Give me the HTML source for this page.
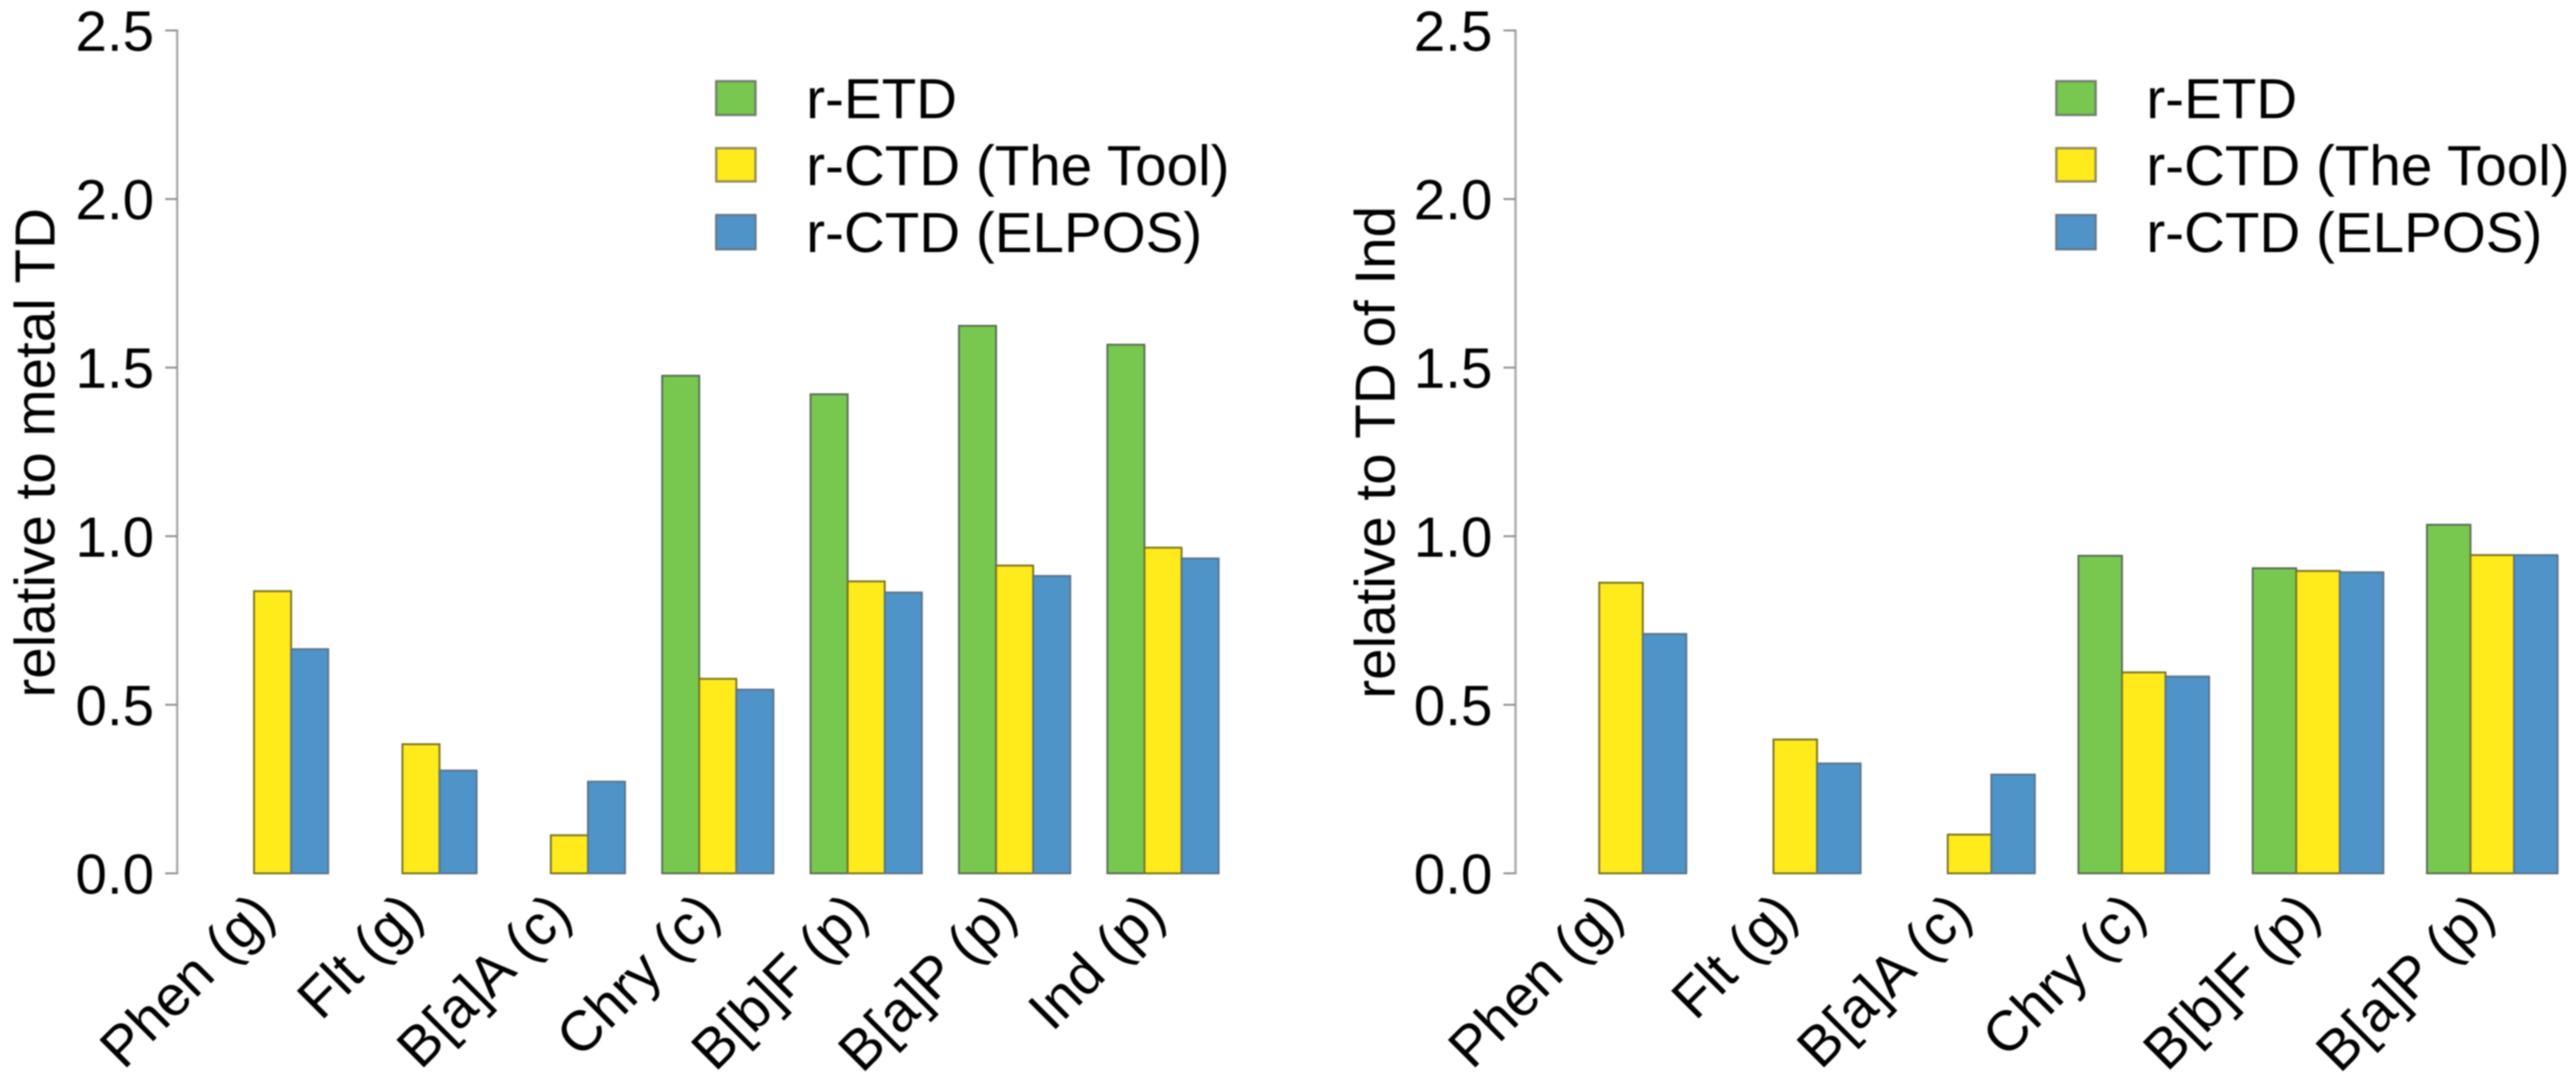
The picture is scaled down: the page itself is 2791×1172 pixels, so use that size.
<!DOCTYPE html>
<html>
<head>
<meta charset="utf-8">
<title>Relative deposition charts</title>
<style>
html,body{margin:0;padding:0;background:#fff;}
#figure{display:block;width:2791px;height:1172px;filter:blur(0.7px);}
text{font-family:"Liberation Sans",Arial,sans-serif;font-size:61.3px;fill:#000;}
</style>
</head>
<body>
<svg id="figure" xmlns="http://www.w3.org/2000/svg" width="2791" height="1172" viewBox="0 0 2791 1172">
  <rect width="2791" height="1172" fill="#fff"/>

  <g id="left-panel">
    <text transform="translate(59,490.5) rotate(-90)" text-anchor="middle">relative to metal TD</text>
    <g>
      <g>
        <rect x="776" y="88" width="42.5" height="36.5" fill="#78c850" stroke="#6f7f68" stroke-width="2.5"/>
        <text x="873.5" y="128">r-ETD</text>
      </g>
      <g>
        <rect x="776" y="160.5" width="42.5" height="36" fill="#ffeb1c" stroke="#8f8a55" stroke-width="2.5"/>
        <text x="873.5" y="200.5">r-CTD (The Tool)</text>
      </g>
      <g>
        <rect x="776" y="233" width="42.5" height="37" fill="#4f94c8" stroke="#66788a" stroke-width="2.5"/>
        <text x="873.5" y="273">r-CTD (ELPOS)</text>
      </g>
    </g>
  </g>

  <g id="right-panel">
    <text transform="translate(1511,490) rotate(-90)" text-anchor="middle">relative to TD of Ind</text>
    <g>
      <g>
        <rect x="2228" y="88" width="42.5" height="36.5" fill="#78c850" stroke="#6f7f68" stroke-width="2.5"/>
        <text x="2325.5" y="128">r-ETD</text>
      </g>
      <g>
        <rect x="2228" y="160.5" width="42.5" height="36" fill="#ffeb1c" stroke="#8f8a55" stroke-width="2.5"/>
        <text x="2325.5" y="200.5">r-CTD (The Tool)</text>
      </g>
      <g>
        <rect x="2228" y="233" width="42.5" height="37" fill="#4f94c8" stroke="#66788a" stroke-width="2.5"/>
        <text x="2325.5" y="273">r-CTD (ELPOS)</text>
      </g>
    </g>
  </g>
</svg>

<script>
var yTicks = ["0.0", "0.5", "1.0", "1.5", "2.0", "2.5"];
var seriesNames = ["r-etd", "r-ctd-tool", "r-ctd-elpos"];

var leftCategories = ["Phen (g)", "Flt (g)", "B[a]A (c)", "Chry (c)", "B[b]F (p)", "B[a]P (p)", "Ind (p)"];
var leftEtd = [null, null, null, 1.476, 1.421, 1.624, 1.568];
var leftTool = [0.837, 0.383, 0.113, 0.577, 0.866, 0.913, 0.966];
var leftElpos = [0.665, 0.305, 0.272, 0.545, 0.833, 0.882, 0.934];

var rightCategories = ["Phen (g)", "Flt (g)", "B[a]A (c)", "Chry (c)", "B[b]F (p)", "B[a]P (p)"];
var rightEtd = [null, null, null, 0.942, 0.905, 1.034];
var rightTool = [0.862, 0.397, 0.115, 0.596, 0.897, 0.944];
var rightElpos = [0.710, 0.326, 0.293, 0.584, 0.893, 0.944];

var SVG_NS = "http://www.w3.org/2000/svg";
var Y_ZERO = 946;
var Y_TOP = 33;
var Y_MAX = 2.5;
var SERIES_FILLS = ["#78c850", "#ffeb1c", "#4f94c8"];
var SERIES_STROKES = ["#5a6a55", "#77701f", "#5a7288"];

function yScale(value) {
  return Y_ZERO - (value / Y_MAX) * (Y_ZERO - Y_TOP);
}

function makeEl(tag, parent) {
  var el = document.createElementNS(SVG_NS, tag);
  parent.appendChild(el);
  return el;
}

function drawPanel(panelId, prefix, axisX, firstBarX, barWidth, categories, series) {
  var panel = document.getElementById(panelId);

  var axisGroup = makeEl("g", panel);
  
  

  var axisLine = makeEl("line", axisGroup);
  
  
  axisLine.setAttribute("x1", axisX);
  axisLine.setAttribute("x2", axisX);
  axisLine.setAttribute("y1", yScale(0) + 1);
  axisLine.setAttribute("y2", yScale(Y_MAX) - 1);
  axisLine.setAttribute("stroke", "#a8a8a8");
  axisLine.setAttribute("stroke-width", "2.5");

  yTicks.forEach(function (label) {
    var y = yScale(parseFloat(label));
    var tick = makeEl("line", axisGroup);
    
    
    tick.setAttribute("x1", axisX - 13);
    tick.setAttribute("x2", axisX);
    tick.setAttribute("y1", y);
    tick.setAttribute("y2", y);
    tick.setAttribute("stroke", "#8c8c8c");
    tick.setAttribute("stroke-width", "2");

    var text = makeEl("text", axisGroup);
    
    
    text.setAttribute("x", axisX - 25);
    text.setAttribute("y", y + 22);
    text.setAttribute("text-anchor", "end");
    text.textContent = label;
  });

  var barsGroup = makeEl("g", panel);
  
  

  var pitch = barWidth * 4;
  categories.forEach(function (category, i) {
    var groupX = firstBarX + i * pitch;
    series.forEach(function (values, s) {
      var value = values[i];
      if (value === null) { return; }
      var bar = makeEl("rect", barsGroup);
      
      
      bar.setAttribute("x", groupX + s * barWidth);
      bar.setAttribute("y", yScale(value));
      bar.setAttribute("width", barWidth);
      bar.setAttribute("height", yScale(0) - yScale(value));
      bar.setAttribute("fill", SERIES_FILLS[s]);
      bar.setAttribute("stroke", SERIES_STROKES[s]);
      bar.setAttribute("stroke-width", "2");
    });

    var labelX = groupX + 1.5 * barWidth + 5;
    var labelY = 993.5;
    var label = makeEl("text", panel);
    
    
    label.setAttribute("transform", "translate(" + labelX + "," + labelY + ") rotate(-45)");
    label.setAttribute("text-anchor", "end");
    label.textContent = category;
  });
}

drawPanel("left-panel", "left", 192, 235, 40.2, leftCategories, [leftEtd, leftTool, leftElpos]);
drawPanel("right-panel", "right", 1642, 1685.5, 47.2, rightCategories, [rightEtd, rightTool, rightElpos]);
</script>
</body>
</html>
